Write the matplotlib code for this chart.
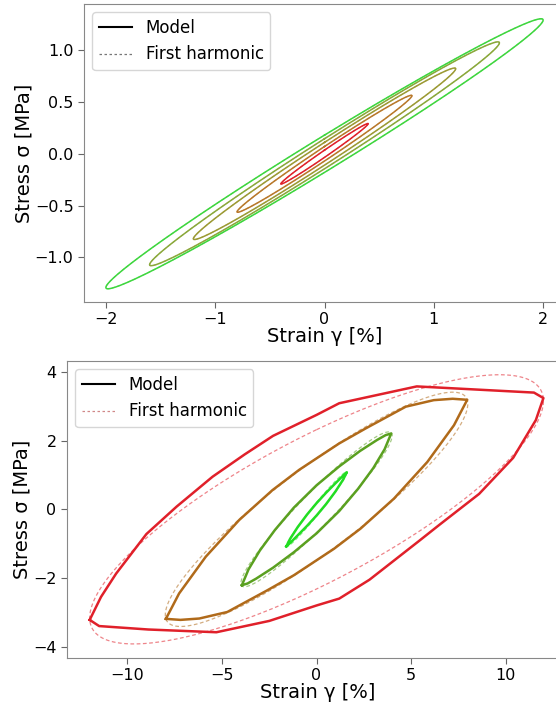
import numpy as np
import matplotlib
matplotlib.use("Agg")
import matplotlib.pyplot as plt
from matplotlib.lines import Line2D

plt.rcParams['font.family'] = ['DejaVu Sans']

# ---------------- top panel: first-harmonic parameters ----------------
top_amp = [0.4, 0.8, 1.2, 1.6, 2.0]          # strain amplitude [%]
top_sig_in = [0.29, 0.56, 0.82, 1.07, 1.29]  # in-phase stress [MPa]
top_sig_out = [0.035, 0.07, 0.11, 0.145, 0.18]  # out-of-phase stress [MPa]
top_colors = ['#e0202a', '#b8782a', '#9c9a34', '#8aa83a', '#3ed63e']

# ---------------- bottom panel: model loops (vertices) ----------------
red_strain = [-12.0, -11.4, -10.6, -9.0, -7.4, -5.5, -3.8, -2.3, 0.0, 1.2, 5.3, 11.5, 12.0,
              11.6, 10.4, 8.6, 6.5, 5.4, 2.8, 1.2, 0.0, -2.5, -5.3, -8.9, -11.5, -12.0]
red_stress = [-3.22, -2.55, -1.87, -0.72, 0.08, 0.95, 1.60, 2.14, 2.75, 3.09, 3.58, 3.40, 3.24,
              2.60, 1.50, 0.45, -0.45, -0.93, -2.05, -2.60, -2.80, -3.25, -3.58, -3.50, -3.40, -3.22]

brown_strain = [-7.97, -7.6, -7.27, -5.86, -4.09, -2.33, -0.92, 1.2, 2.61, 4.72, 6.2, 7.2, 7.97,
                7.6, 7.27, 5.86, 4.09, 2.33, 0.92, -1.2, -2.61, -4.72, -6.2, -7.2, -7.97]
brown_stress = [-3.19, -2.80, -2.45, -1.38, -0.31, 0.56, 1.15, 1.92, 2.36, 2.99, 3.18, 3.22, 3.19,
                2.80, 2.45, 1.38, 0.31, -0.56, -1.15, -1.92, -2.36, -2.99, -3.18, -3.22, -3.19]

green_strain = [-3.95, -3.6, -3.0, -2.2, -1.2, 0.0, 1.2, 2.3, 3.2, 3.65, 3.95,
                3.6, 3.0, 2.2, 1.2, 0.0, -1.2, -2.3, -3.2, -3.65, -3.95]
green_stress = [-2.21, -1.75, -1.20, -0.60, 0.05, 0.70, 1.25, 1.70, 2.02, 2.16, 2.21,
                1.75, 1.20, 0.60, -0.05, -0.70, -1.25, -1.70, -2.02, -2.16, -2.21]

lime_strain = [-1.6, -1.4, -1.0, -0.5, 0.0, 0.5, 1.0, 1.4, 1.6,
               1.4, 1.0, 0.5, 0.0, -0.5, -1.0, -1.4, -1.6]
lime_stress = [-1.08, -0.86, -0.52, -0.15, 0.18, 0.48, 0.76, 0.98, 1.08,
               0.86, 0.52, 0.15, -0.18, -0.48, -0.76, -0.98, -1.08]

# bottom panel: first-harmonic parameters
bot_amp = [12.0, 8.0, 4.0, 1.6]
bot_sig_in = [3.16, 3.07, 2.15, 1.07]
bot_sig_out = [2.32, 1.49, 0.68, 0.20]
bot_colors = ['#e0202a', '#b06a1a', '#5aa020', '#22dd22']

model_loops = [(red_strain, red_stress), (brown_strain, brown_stress),
               (green_strain, green_stress), (lime_strain, lime_stress)]

W, H = 556, 706
fig = plt.figure(figsize=(W / 100, H / 100), dpi=100)

ax1 = fig.add_axes([84 / W, 1 - 302 / H, (565 - 84) / W, 298 / H])
ax2 = fig.add_axes([67 / W, 1 - 658 / H, (568 - 67) / W, 297 / H])

t = np.linspace(0, 2 * np.pi, 400)


def harmonic(amp, s_in, s_out):
    return amp * np.sin(t), s_in * np.sin(t) + s_out * np.cos(t)


for a, si, so, c in zip(top_amp, top_sig_in, top_sig_out, top_colors):
    g, s = harmonic(a, si, so)
    ax1.plot(g, s, color=c, lw=1.1)
    ax1.plot(g, s, color=c, lw=0.8, ls=(0, (3, 2)), alpha=0.6)

for (gs, ss), a, si, so, c in zip(model_loops, bot_amp, bot_sig_in, bot_sig_out, bot_colors):
    ax2.plot(gs, ss, color=c, lw=1.8, solid_joinstyle='round')
    g, s = harmonic(a, si, so)
    ax2.plot(g, s, color=c, lw=0.9, ls=(0, (3, 2)), alpha=0.55)

ax1.set_xlim(-2.2, 2.2)
ax1.set_ylim(-1.43, 1.445)
ax1.set_xticks([-2, -1, 0, 1, 2])
ax1.set_yticks([-1.0, -0.5, 0.0, 0.5, 1.0])

ax2.set_xlim(-13.2, 13.3)
ax2.set_ylim(-4.33, 4.32)
ax2.set_xticks([-10, -5, 0, 5, 10])
ax2.set_yticks([-4, -2, 0, 2, 4])

for ax, hcol in ((ax1, '#777777'), (ax2, '#d08888')):
    ax.set_xlabel('Strain γ [%]', fontsize=14, labelpad=0)
    ax.set_ylabel('Stress σ [MPa]', fontsize=14, labelpad=1)
    ax.tick_params(labelsize=11.5, color='#666666', length=4)
    for sp in ax.spines.values():
        sp.set_color('#888888')
    handles = [Line2D([], [], color='black', lw=1.5),
               Line2D([], [], color=hcol, lw=0.9, ls=(0, (2, 2)))]
    ax.legend(handles, ['Model', 'First harmonic'], loc='upper left', fontsize=12)

fig.savefig('out.png', dpi=100)
